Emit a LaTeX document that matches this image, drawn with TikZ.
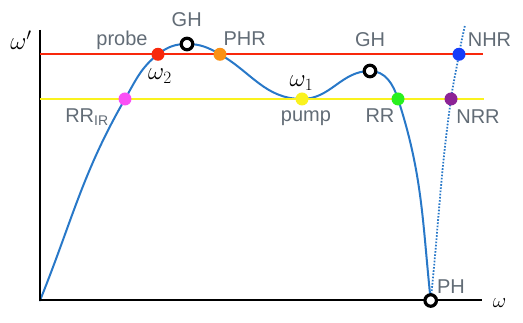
\documentclass[tikz,border=0pt]{standalone}
\usepackage[no-math]{fontspec}
\newfontfamily\labfont{Liberation Sans}
\usetikzlibrary{backgrounds}

\begin{document}
\begin{tikzpicture}[
  x=1pt,y=1pt,
  dot/.style={circle,fill=#1,minimum size=13pt,inner sep=0pt},
  ring/.style={circle,draw=black,fill=white,line width=3.2pt,
    minimum size=11.5pt,inner sep=0pt},
  lab/.style={font=\fontsize{20}{23}\selectfont\labfont,text=labgray,
    inner sep=0pt,anchor=base},
  mlab/.style={font=\fontsize{#1}{#1}\selectfont,inner sep=0pt,anchor=base},
  level/.style={line width=2pt,draw=#1},
  branch/.style={line width=2pt,draw=disp,line cap=round}]

  \definecolor{labgray}{RGB}{98,108,118}
  \definecolor{disp}{RGB}{40,120,200}
  \definecolor{probec}{RGB}{248,40,12}
  \definecolor{pumpc}{RGB}{250,242,30}
  \definecolor{phrc}{RGB}{250,145,20}
  \definecolor{rrirc}{RGB}{250,80,245}
  \definecolor{rrc}{RGB}{40,240,30}
  \definecolor{nrrc}{RGB}{140,35,150}
  \definecolor{nhrc}{RGB}{20,60,250}

  \useasboundingbox (0,0) rectangle (523,323);

  % ---- axes ----
  \coordinate (ytop) at (40,293);
  \coordinate (orig) at (40,22.5);
  \coordinate (xend) at (482,22.5);
  \draw[line width=2pt] (ytop) -- (orig) -- (xend);
  \node[mlab=27] (wy) at (21,273) {$\omega'$};
  \node[mlab=21] (wx) at (499.5,15.7) {$\omega$};

  % ---- probe and pump levels ----
  \coordinate (red0) at (40,268.7);
  \coordinate (red1) at (483,268.7);
  \coordinate (yel0) at (40,224);
  \coordinate (yel1) at (484,224);
  \draw[level=probec] (red0) -- (red1);
  \draw[level=pumpc] (yel0) -- (yel1);

  % ---- resonance points ----
  \node[dot=rrirc] (rrir) at (125,224) {};
  \node[dot=probec] (probe) at (158,268.7) {};
  \node[ring] (gh1) at (187,279) {};
  \node[dot=phrc] (phr) at (220,268.7) {};
  \node[dot=pumpc] (pump) at (302,224) {};
  \node[ring] (gh2) at (370,252) {};
  \node[dot=rrc] (rr) at (398,224) {};
  \node[dot=nrrc] (nrr) at (451,224) {};
  \node[dot=nhrc] (nhr) at (459,268.7) {};
  \node[ring] (ph) at (430.7,22.5) {};
  \coordinate (ntop) at (465,298);

  % ---- dispersion branches ----
  \begin{pgfonlayer}{background}
    \draw[branch] (orig) to[out=68,in=240] (rrir.center)
      to[out=60,in=218] (probe.center)
      to[out=38,in=180] (gh1.center)
      to[out=0,in=150] (phr.center)
      to[out=-30,in=180] (pump.center)
      to[out=0,in=180] (gh2.center)
      to[out=0,in=108] (rr.center)
      to[out=-72,in=96] (ph.center);
    \draw[branch,line cap=butt,line width=1.8pt,dash pattern=on 1.6pt off 1.6pt]
      (ph.center) to[out=84,in=-98] (nrr.center)
      to[out=82,in=-100] (nhr.center)
      to[out=80,in=-102] (ntop);
  \end{pgfonlayer}

  % ---- labels ----
  \node[lab] (lprobe) at (122,277) {probe};
  \node[lab] (lgh1) at (186.7,296.3) {GH};
  \node[lab] (lphr) at (244.7,277) {PHR};
  \node[lab] (lgh2) at (370,276.3) {GH};
  \node[lab] (lnhr) at (489.5,276.3) {NHR};
  \node[lab] (lrrir) at (87,200.5) {RR\textsubscript{IR}};
  \node[lab] (lpump) at (306,201) {pump};
  \node[lab] (lrr) at (380,200.3) {RR};
  \node[lab] (lnrr) at (478,199.7) {NRR};
  \node[lab] (lph) at (451,29.7) {PH};
  \node[mlab=23] (w2) at (160,243) {$\omega_2$};
  \node[mlab=23] (w1) at (301.5,236) {$\omega_1$};
\end{tikzpicture}
\end{document}
